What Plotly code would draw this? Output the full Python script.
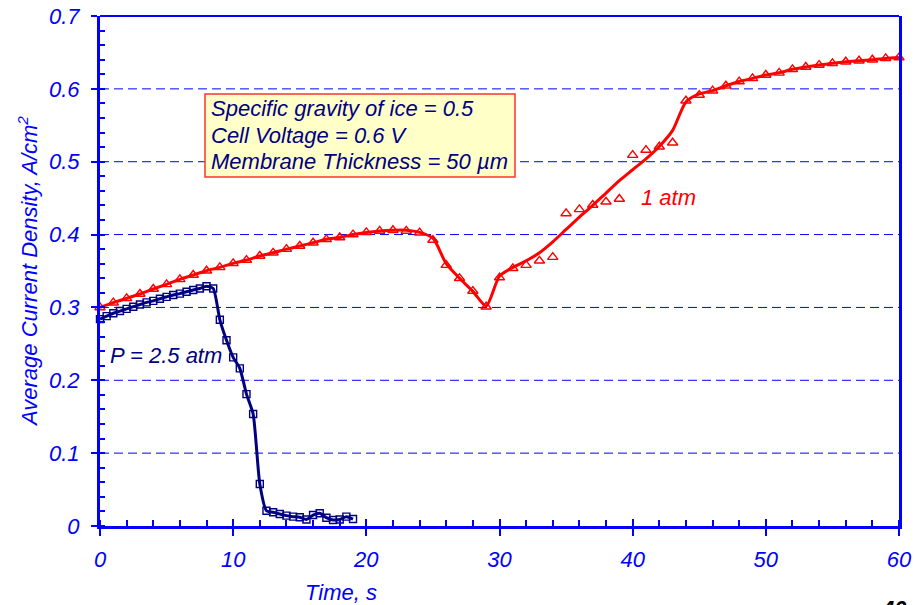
import plotly.graph_objects as go

# ---- data ----
time_1atm = list(range(0, 61))
cd_1atm_points = [0.300, 0.3065, 0.3125, 0.3184, 0.3253, 0.3317, 0.3385, 0.3445, 0.3504, 0.355,
                  0.3605, 0.365, 0.3706, 0.375, 0.380, 0.3843, 0.3888, 0.3935, 0.396, 0.400,
                  0.403, 0.405, 0.406, 0.405, 0.4026, 0.3925, 0.358, 0.340, 0.3225, 0.301,
                  0.341, 0.3537, 0.358, 0.364, 0.369, 0.429, 0.4346, 0.4406, 0.445, 0.4488,
                  0.509, 0.516, 0.5206, 0.526, 0.5837, 0.5915, 0.5975, 0.6043, 0.610, 0.6144,
                  0.619, 0.622, 0.6268, 0.630, 0.6327, 0.635, 0.6372, 0.6386, 0.640, 0.6418, 0.643]
cd_1atm_fit = [0.300, 0.3065, 0.3125, 0.3184, 0.3253, 0.3317, 0.3385, 0.3445, 0.3504, 0.355,
               0.3605, 0.365, 0.3706, 0.375, 0.380, 0.3843, 0.3888, 0.3935, 0.396, 0.400,
               0.403, 0.405, 0.406, 0.406, 0.403, 0.395, 0.360, 0.340, 0.322, 0.302,
               0.343, 0.355, 0.364, 0.375, 0.390, 0.407, 0.424, 0.440, 0.457, 0.474,
               0.489, 0.504, 0.521, 0.543, 0.582, 0.593, 0.5975, 0.6043, 0.610, 0.6144,
               0.619, 0.622, 0.6268, 0.630, 0.6327, 0.635, 0.6372, 0.6386, 0.640, 0.6418, 0.643]

time_25atm = [i * 0.5 for i in range(0, 39)]
cd_25atm = [0.284, 0.288, 0.292, 0.295, 0.298, 0.301, 0.304, 0.307, 0.309, 0.312,
            0.3145, 0.317, 0.319, 0.3215, 0.324, 0.326, 0.329, 0.326, 0.283, 0.255,
            0.2315, 0.2164, 0.181, 0.1537, 0.0576, 0.021, 0.0188, 0.0165, 0.0142, 0.0128,
            0.012, 0.009, 0.015, 0.0174, 0.0114, 0.0082, 0.009, 0.0128, 0.0096]

x_ticks = [0, 10, 20, 30, 40, 50, 60]
y_ticks = [0, 0.1, 0.2, 0.3, 0.4, 0.5, 0.6, 0.7]
y_tick_text = ["0", "0.1", "0.2", "0.3", "0.4", "0.5", "0.6", "0.7"]
y_grid = [0.1, 0.2, 0.3, 0.4, 0.5, 0.6]
note_lines = ["Specific gravity of ice = 0.5", "Cell Voltage = 0.6 V", "Membrane Thickness = 50 µm"]

BLUE = "#0000FF"
RED = "#FF0000"
NAVY = "#000080"
FONT = "Liberation Sans, Arial, sans-serif"
FS = 22

W, H = 918, 605
L, R, T, B = 100, 19, 16, 79
PW, PH = W - L - R, H - T - B


def px_x(p):
    return (p - L) / PW


def px_y(p):
    return (H - B - p) / PH


fig = go.Figure()

fig.add_trace(go.Scatter(x=time_25atm, y=cd_25atm, mode="lines+markers",
                         line=dict(color=NAVY, width=3, shape="spline", smoothing=0.6),
                         marker=dict(symbol="square-open", size=7, color=NAVY, line=dict(width=1.4)),
                         cliponaxis=False, showlegend=False))
fig.add_trace(go.Scatter(x=time_1atm, y=cd_1atm_fit, mode="lines",
                         line=dict(color=RED, width=3, shape="spline", smoothing=0.7),
                         cliponaxis=False, showlegend=False))
fig.add_trace(go.Scatter(x=time_1atm, y=cd_1atm_points, mode="markers",
                         marker=dict(symbol="triangle-up-open", size=9, color=RED, line=dict(width=1.4)),
                         cliponaxis=False, showlegend=False))

# overlay axes for the inside halves of the major ticks
fig.add_trace(go.Scatter(x=[0], y=[0], xaxis="x2", yaxis="y2", mode="markers",
                         marker=dict(opacity=0), hoverinfo="skip", showlegend=False))

shapes = []
for v in y_grid:
    shapes.append(dict(type="line", xref="paper", yref="y", x0=0, x1=1, y0=v, y1=v,
                       line=dict(color=BLUE, width=1, dash="9px,5px"), layer="below"))
shapes.append(dict(type="line", xref="paper", yref="paper", x0=0, x1=1, y0=1, y1=1,
                   line=dict(color=BLUE, width=2)))
shapes.append(dict(type="rect", xref="paper", yref="paper",
                   x0=px_x(205), x1=px_x(515), y0=px_y(177), y1=px_y(94),
                   fillcolor="#FFFFC8", line=dict(color="#FF3030", width=1.5)))

annotations = [
    dict(text="Average Current Density, A/cm<sup>2</sup>", textangle=-90,
         xref="paper", yref="paper", x=px_x(28), y=px_y(272), showarrow=False,
         xanchor="center", yanchor="middle",
         font=dict(family=FONT, size=FS, color=BLUE, style="italic")),
    dict(text="Time, s", xref="paper", yref="paper", x=px_x(341), y=px_y(592),
         showarrow=False, xanchor="center", yanchor="middle",
         font=dict(family=FONT, size=FS, color=BLUE, style="italic")),
    dict(text="P = 2.5 atm", x=0.6, y=0.234, xref="x", yref="y", showarrow=False,
         xanchor="left", yanchor="middle",
         font=dict(family=FONT, size=FS, color=NAVY, style="italic")),
    dict(text="1 atm", x=42.7, y=0.451, xref="x", yref="y", showarrow=False,
         xanchor="center", yanchor="middle",
         font=dict(family=FONT, size=FS, color=RED, style="italic")),
    dict(text="<b>40</b>", xref="paper", yref="paper", x=px_x(894), y=px_y(594),
         showarrow=False, xanchor="center", yanchor="top",
         font=dict(family=FONT, size=22, color="black")),
]
for i, line in enumerate(note_lines):
    annotations.append(dict(text=line, xref="paper", yref="paper", x=px_x(209), y=px_y(108.5 + 26.7 * i),
                            showarrow=False, xanchor="left", yanchor="middle",
                            font=dict(family=FONT, size=FS, color=NAVY, style="italic")))

fig.update_layout(
    width=W, height=H,
    margin=dict(l=L, r=R, t=T, b=B),
    paper_bgcolor="white", plot_bgcolor="white",
    font=dict(family=FONT, color=BLUE, size=FS, style="italic"),
    xaxis=dict(range=[0, 60], tickvals=x_ticks, ticktext=[str(v) for v in x_ticks],
               automargin=False,
               showgrid=False, zeroline=False, showline=True, linecolor=BLUE, linewidth=3,
               ticks="outside", ticklen=7, tickwidth=2, tickcolor=BLUE,
               ticklabelstandoff=5,
               minor=dict(ticks="inside", dtick=2, ticklen=6, tickwidth=2, tickcolor=BLUE, showgrid=False),
               tickfont=dict(family=FONT, size=FS, color=BLUE, style="italic")),
    yaxis=dict(range=[0, 0.7], tickvals=y_ticks, ticktext=y_tick_text,
               automargin=False,
               showgrid=False, zeroline=False, showline=True, linecolor=BLUE, linewidth=3, mirror=True,
               ticks="outside", ticklen=6, tickwidth=2, tickcolor=BLUE,
               ticklabelstandoff=7,
               minor=dict(ticks="inside", dtick=0.02, ticklen=5, tickwidth=2, tickcolor=BLUE, showgrid=False),
               tickfont=dict(family=FONT, size=FS, color=BLUE, style="italic")),
    xaxis2=dict(range=[0, 60], overlaying="x", tickvals=x_ticks, showticklabels=False,
                automargin=False,
                showgrid=False, zeroline=False, showline=False,
                ticks="inside", ticklen=7, tickwidth=2, tickcolor=BLUE),
    yaxis2=dict(range=[0, 0.7], overlaying="y", tickvals=y_ticks, showticklabels=False,
                automargin=False,
                showgrid=False, zeroline=False, showline=False,
                ticks="inside", ticklen=5, tickwidth=2, tickcolor=BLUE),
    shapes=shapes,
    annotations=annotations,
)

fig.write_html("out.html")
